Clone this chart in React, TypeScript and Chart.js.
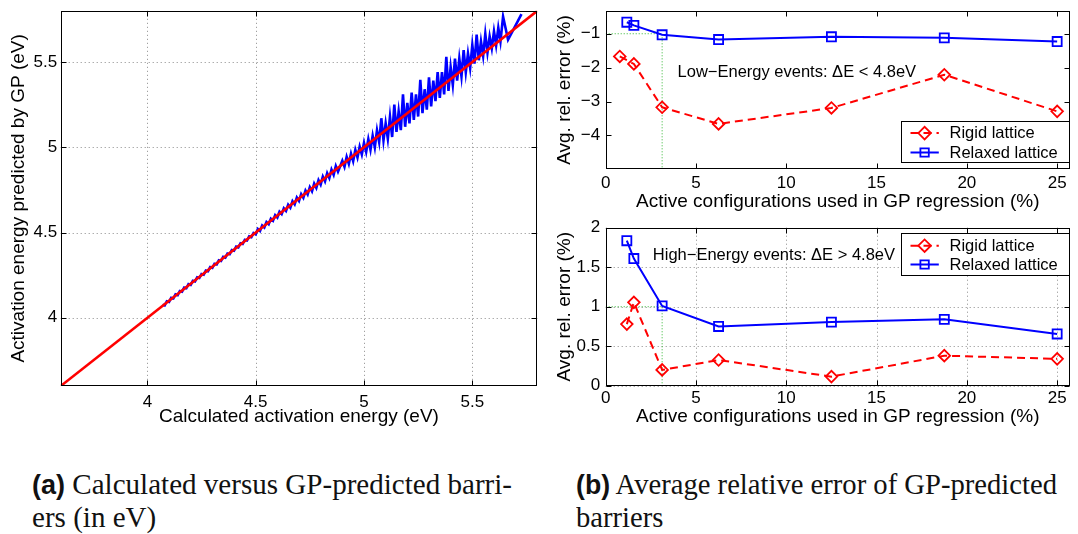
import React, { useEffect, useRef } from "react";
import { Chart, registerables } from "chart.js";

Chart.register(...registerables);

const SANS = "'Liberation Sans', Arial, Helvetica, sans-serif";
const SERIF = "'Liberation Serif', 'Times New Roman', serif";

// ---------------- Panel (a): calculated vs GP-predicted barriers (eV) ----------------
const calcEnergy = [
  4.07, 4.08, 4.09, 4.1, 4.11, 4.12, 4.13, 4.14, 4.15, 4.16, 4.17, 4.18, 4.19, 4.2, 4.21, 4.22,
  4.23, 4.24, 4.25, 4.26, 4.27, 4.28, 4.29, 4.3, 4.31, 4.32, 4.33, 4.34, 4.35, 4.36, 4.37, 4.38,
  4.39, 4.4, 4.41, 4.42, 4.43, 4.44, 4.45, 4.46, 4.47, 4.48, 4.49,
  4.5, 4.51, 4.52, 4.53, 4.54, 4.55, 4.56, 4.57, 4.58, 4.59, 4.6, 4.61, 4.62, 4.63, 4.64, 4.65,
  4.66, 4.67, 4.68, 4.69, 4.7, 4.71, 4.72, 4.73, 4.74, 4.75, 4.76, 4.77, 4.78, 4.79, 4.8, 4.81,
  4.82, 4.83, 4.84, 4.85, 4.86, 4.87, 4.88,
  4.9, 4.91, 4.92, 4.93, 4.94, 4.95, 4.96, 4.97, 4.98, 4.99, 5.0, 5.01, 5.02, 5.03, 5.04, 5.05,
  5.06, 5.07, 5.08, 5.09, 5.1, 5.11, 5.12, 5.13, 5.14, 5.15, 5.16, 5.17, 5.18, 5.19, 5.2, 5.21,
  5.22, 5.23, 5.24, 5.25, 5.26, 5.27, 5.28, 5.29, 5.3, 5.31, 5.32, 5.33, 5.34, 5.35, 5.36, 5.37,
  5.38, 5.39, 5.4, 5.41, 5.42, 5.43, 5.44, 5.45, 5.46, 5.47, 5.48, 5.49, 5.5, 5.51, 5.52, 5.53,
  5.54, 5.55, 5.56, 5.57, 5.58, 5.59, 5.6, 5.61, 5.62, 5.63, 5.642, 5.665, 5.727,
];
const gpEnergy = [
  4.077, 4.073, 4.097, 4.093, 4.117, 4.113, 4.137, 4.133, 4.157, 4.153, 4.177, 4.173, 4.197, 4.193, 4.217, 4.213,
  4.237, 4.233, 4.257, 4.253, 4.277, 4.273, 4.297, 4.293, 4.317, 4.313, 4.337, 4.333, 4.357, 4.353, 4.377, 4.373,
  4.397, 4.393, 4.417, 4.413, 4.437, 4.433, 4.457, 4.453, 4.477, 4.473, 4.497,
  4.489, 4.521, 4.509, 4.541, 4.529, 4.561, 4.549, 4.581, 4.569, 4.602, 4.588, 4.622, 4.608, 4.642, 4.627, 4.663,
  4.646, 4.684, 4.665, 4.705, 4.685, 4.725, 4.704, 4.746, 4.723, 4.766, 4.742, 4.787, 4.762, 4.807, 4.781, 4.828,
  4.8, 4.848, 4.819, 4.869, 4.838, 4.89, 4.857,
  4.921, 4.885, 4.943, 4.902, 4.962, 4.918, 4.985, 4.94, 5.004, 4.958, 5.026, 4.972, 5.048, 4.985, 5.068, 5.0,
  5.1, 5.03, 5.17, 5.04, 5.14, 5.05, 5.18, 5.06, 5.25, 5.09, 5.21, 5.1, 5.31, 5.12, 5.26, 5.14,
  5.32, 5.16, 5.31, 5.18, 5.395, 5.2, 5.34, 5.22, 5.41, 5.24, 5.39, 5.27, 5.44, 5.29, 5.44, 5.31,
  5.53, 5.33, 5.47, 5.365, 5.52, 5.39, 5.52, 5.415, 5.57, 5.44, 5.55, 5.465, 5.6, 5.49, 5.66, 5.51,
  5.62, 5.535, 5.665, 5.555, 5.65, 5.58, 5.68, 5.598, 5.7, 5.62, 5.766, 5.63, 5.78,
];
const parityX = [3.6, 5.8];
const parityY = [3.6, 5.8];
const energyTicks = [4, 4.5, 5, 5.5];

// ---------------- Panel (b): average relative error ----------------
const activeLowRigid = [0.78, 1.56, 3.125, 6.25, 12.5, 18.75, 25];
const errLowRigid = [-1.67, -1.89, -3.17, -3.66, -3.19, -2.21, -3.29];
const activeLowRelaxed = [1.17, 1.56, 3.125, 6.25, 12.5, 18.75, 25];
const errLowRelaxed = [-0.66, -0.755, -1.03, -1.17, -1.09, -1.12, -1.23];
const activeHigh = [1.17, 1.56, 3.125, 6.25, 12.5, 18.75, 25];
const errHighRigid = [0.78, 1.055, 0.2, 0.325, 0.115, 0.38, 0.34];
const errHighRelaxed = [1.835, 1.61, 1.01, 0.75, 0.805, 0.84, 0.655];
const guideX = [0, 3.125, 3.125];
const guideLowY = [-1, -1, -5];
const guideHighY = [1, 1, 0];
const activeTicks = [0, 5, 10, 15, 20, 25];
const lowErrTicks = [-4, -3, -2, -1];
const highErrTicks = [0, 0.5, 1, 1.5, 2];
const seriesLabels = ["Rigid lattice", "Relaxed lattice"];

const RED = "#ff0000";
const BLUE = "#0000ff";
const GREEN = "#2fb52f";
const RED_DASH = [8, 5];

type Pt = { x: number; y: number };
const zip = (xs: number[], ys: number[]): Pt[] => xs.map((x, i) => ({ x, y: ys[i] }));
const fmt = (v: number) => (v < 0 ? "\u2212" + String(Math.abs(v)) : String(v));

function drawMarker(ctx: CanvasRenderingContext2D, kind: string, x: number, y: number, color: string, r: number) {
  ctx.save();
  ctx.strokeStyle = color;
  ctx.lineWidth = 1.8;
  ctx.setLineDash([]);
  ctx.beginPath();
  if (kind === "diamond") {
    ctx.moveTo(x - r, y);
    ctx.lineTo(x, y - r);
    ctx.lineTo(x + r, y);
    ctx.lineTo(x, y + r);
    ctx.closePath();
  } else {
    ctx.rect(x - r, y - r, 2 * r, 2 * r);
  }
  ctx.stroke();
  ctx.restore();
}

const matlabAxes = {
  id: "matlabAxes",
  beforeDatasetsDraw(chart: any, _a: any, opts: any) {
    if (!opts || !opts.grid) return;
    const { ctx, chartArea: a, scales } = chart;
    ctx.save();
    ctx.strokeStyle = "#8a8a8a";
    ctx.lineWidth = 1;
    ctx.setLineDash([1, 3]);
    ctx.beginPath();
    scales.x.ticks.forEach((t: any) => {
      const p = Math.round(scales.x.getPixelForValue(t.value)) + 0.5;
      ctx.moveTo(p, a.top);
      ctx.lineTo(p, a.bottom);
    });
    scales.y.ticks.forEach((t: any) => {
      const p = Math.round(scales.y.getPixelForValue(t.value)) + 0.5;
      ctx.moveTo(a.left, p);
      ctx.lineTo(a.right, p);
    });
    ctx.stroke();
    ctx.restore();
  },
  afterDraw(chart: any, _a: any, opts: any) {
    const { ctx, chartArea: a, scales } = chart;
    ctx.save();
    ctx.strokeStyle = "#000";
    ctx.lineWidth = 1;
    ctx.setLineDash([]);
    const L = Math.round(a.left) + 0.5;
    const R = Math.round(a.right) - 0.5;
    const T = Math.round(a.top) + 0.5;
    const B = Math.round(a.bottom) - 0.5;
    ctx.strokeRect(L, T, R - L, B - T);
    const tl = 5;
    ctx.beginPath();
    scales.x.ticks.forEach((t: any) => {
      const p = Math.round(scales.x.getPixelForValue(t.value)) + 0.5;
      ctx.moveTo(p, B); ctx.lineTo(p, B - tl);
      ctx.moveTo(p, T); ctx.lineTo(p, T + tl);
    });
    scales.y.ticks.forEach((t: any) => {
      const p = Math.round(scales.y.getPixelForValue(t.value)) + 0.5;
      ctx.moveTo(L, p); ctx.lineTo(L + tl, p);
      ctx.moveTo(R, p); ctx.lineTo(R - tl, p);
    });
    ctx.stroke();

    if (opts && opts.note) {
      ctx.fillStyle = "#000";
      ctx.font = `16.5px ${SANS}`;
      ctx.textAlign = "left";
      ctx.textBaseline = "middle";
      ctx.fillText(opts.note.text, scales.x.getPixelForValue(opts.note.x), scales.y.getPixelForValue(opts.note.y));
    }

    if (opts && opts.legend) {
      const lg = opts.legend;
      const w = lg.width;
      const h = lg.height;
      const left = a.right - w;
      const top = lg.anchor === "bottom" ? a.bottom - lg.offset - h : a.top + lg.offset;
      ctx.fillStyle = "#fff";
      ctx.fillRect(left, top, w, h);
      ctx.strokeStyle = "#000";
      ctx.lineWidth = 1;
      ctx.strokeRect(Math.round(left) + 0.5, Math.round(top) + 0.5, Math.round(w) - 1, Math.round(h) - 1);
      const items = [
        { label: seriesLabels[0], color: RED, dash: RED_DASH, marker: "diamond", r: 6.3 },
        { label: seriesLabels[1], color: BLUE, dash: [], marker: "square", r: 4.2 },
      ];
      items.forEach((it, i) => {
        const y = top + lg.rowTop + i * lg.rowGap;
        ctx.save();
        ctx.strokeStyle = it.color;
        ctx.lineWidth = 2;
        ctx.setLineDash(it.dash);
        ctx.beginPath();
        ctx.moveTo(left + 9.7, y);
        ctx.lineTo(left + 38, y);
        ctx.stroke();
        ctx.restore();
        drawMarker(ctx, it.marker, left + 23.8, y, it.color, it.r);
        ctx.fillStyle = "#000";
        ctx.font = `16.5px ${SANS}`;
        ctx.textAlign = "left";
        ctx.textBaseline = "middle";
        ctx.fillText(it.label, left + 48.7, y + 0.5);
      });
    }
    ctx.restore();
  },
};

function makeScale(o: {
  axis: "x" | "y";
  min: number;
  max: number;
  ticks: number[];
  size: number;
  pad: number;
  title: string;
  titlePad: { top: number; bottom: number };
}) {
  return {
    type: "linear",
    bounds: "data",
    min: o.min,
    max: o.max,
    grid: { display: false, drawTicks: false },
    border: { display: false },
    afterBuildTicks: (s: any) => {
      s.ticks = o.ticks.map((v) => ({ value: v }));
    },
    afterFit: (s: any) => {
      if (o.axis === "x") s.height = o.size;
      else s.width = o.size;
      s.paddingTop = 0;
      s.paddingBottom = 0;
      s.paddingLeft = 0;
      s.paddingRight = 0;
    },
    ticks: {
      autoSkip: false,
      maxRotation: 0,
      minRotation: 0,
      padding: o.pad,
      color: "#000",
      font: { family: SANS, size: 17 },
      callback: (v: any) => fmt(Number(v)),
    },
    title: {
      display: true,
      text: o.title,
      color: "#000",
      font: { family: SANS, size: 19 },
      padding: o.titlePad,
    },
  };
}

const baseOptions = {
  responsive: false,
  maintainAspectRatio: false,
  animation: false,
  devicePixelRatio: 1,
  events: [] as any[],
};

function configA(): any {
  return {
    type: "scatter",
    data: {
      datasets: [
        { data: zip(parityX, parityY), showLine: true, borderColor: RED, borderWidth: 2.6, pointRadius: 0 },
        { data: zip(calcEnergy, gpEnergy), showLine: true, borderColor: BLUE, borderWidth: 2.6, pointRadius: 0 },
      ],
    },
    options: {
      ...baseOptions,
      layout: { padding: { left: 0, top: 10.8, right: 7.7, bottom: 0 } },
      plugins: { legend: { display: false }, tooltip: { enabled: false }, matlabAxes: { grid: true } },
      scales: {
        x: makeScale({ axis: "x", min: 3.6, max: 5.8, ticks: energyTicks, size: 54, pad: 6, title: "Calculated activation energy (eV)", titlePad: { top: 0, bottom: 11.6 } }),
        y: makeScale({ axis: "y", min: 3.6, max: 5.8, ticks: energyTicks, size: 60.7, pad: 3.5, title: "Activation energy predicted by GP (eV)", titlePad: { top: 7, bottom: 0 } }),
      },
    },
    plugins: [matlabAxes],
  };
}

function seriesDatasets(xr: number[], yr: number[], xb: number[], yb: number[], gy: number[]) {
  return [
    {
      data: zip(xr, yr), showLine: true, borderColor: RED, borderWidth: 2, borderDash: RED_DASH,
      pointStyle: "rectRot", pointRadius: 5.8, pointBorderWidth: 1.8, pointBorderColor: RED, pointBackgroundColor: "rgba(0,0,0,0)",
    },
    {
      data: zip(xb, yb), showLine: true, borderColor: BLUE, borderWidth: 2,
      pointStyle: "rect", pointRadius: 6.4, pointBorderWidth: 1.8, pointBorderColor: BLUE, pointBackgroundColor: "rgba(0,0,0,0)",
    },
    { data: zip(guideX, gy), showLine: true, borderColor: GREEN, borderWidth: 1, borderDash: [1, 2], pointRadius: 0 },
  ];
}

function configTop(): any {
  return {
    type: "scatter",
    data: { datasets: seriesDatasets(activeLowRigid, errLowRigid, activeLowRelaxed, errLowRelaxed, guideLowY) },
    options: {
      ...baseOptions,
      layout: { padding: { left: 0, top: 10.7, right: 2, bottom: 0 } },
      plugins: {
        legend: { display: false },
        tooltip: { enabled: false },
        matlabAxes: {
          grid: false,
          note: { text: "Low\u2212Energy events: \u0394E < 4.8eV", x: 3.98, y: -2.13 },
          legend: { anchor: "bottom", offset: 6.3, width: 169, height: 41.5, rowTop: 11.6, rowGap: 19.4 },
        },
      },
      scales: {
        x: makeScale({ axis: "x", min: 0, max: 25.7, ticks: activeTicks, size: 45.7, pad: 3.5, title: "Active configurations used in GP regression (%)", titlePad: { top: 0, bottom: 1.6 } }),
        y: makeScale({ axis: "y", min: -5, max: -0.32, ticks: lowErrTicks, size: 60.7, pad: 5.5, title: "Avg. rel. error (%)", titlePad: { top: 8.6, bottom: 0 } }),
      },
    },
    plugins: [matlabAxes],
  };
}

function configBottom(): any {
  return {
    type: "scatter",
    data: { datasets: seriesDatasets(activeHigh, errHighRigid, activeHigh, errHighRelaxed, guideHighY) },
    options: {
      ...baseOptions,
      layout: { padding: { left: 0, top: 12.7, right: 2, bottom: 0 } },
      plugins: {
        legend: { display: false },
        tooltip: { enabled: false },
        matlabAxes: {
          grid: true,
          note: { text: "High\u2212Energy events: \u0394E > 4.8eV", x: 2.61, y: 1.65 },
          legend: { anchor: "top", offset: 5.6, width: 169, height: 42.5, rowTop: 12.4, rowGap: 18.8 },
        },
      },
      scales: {
        x: makeScale({ axis: "x", min: 0, max: 25.7, ticks: activeTicks, size: 54.3, pad: 2.5, title: "Active configurations used in GP regression (%)", titlePad: { top: 0, bottom: 11.6 } }),
        y: makeScale({ axis: "y", min: 0, max: 2, ticks: highErrTicks, size: 60.7, pad: 5.5, title: "Avg. rel. error (%)", titlePad: { top: 8.6, bottom: 0 } }),
      },
    },
    plugins: [matlabAxes],
  };
}

function Caption(props: { left: number; top: number; width: number; label: string; line1: string; line2: string }) {
  const boxRef = useRef<HTMLDivElement>(null);
  const lineRef = useRef<HTMLSpanElement>(null);
  useEffect(() => {
    const fit = () => {
      const box = boxRef.current;
      const line = lineRef.current;
      if (!box || !line) return;
      box.style.transform = "none";
      const natural = line.getBoundingClientRect().width;
      if (natural > 0) box.style.transform = `scaleX(${props.width / natural})`;
    };
    fit();
    const fonts = (document as any).fonts;
    if (fonts && fonts.ready) fonts.ready.then(fit);
  }, []);
  return (
    <div
      ref={boxRef}
      style={{
        position: "absolute",
        left: props.left,
        top: props.top,
        transformOrigin: "0 0",
        fontFamily: SERIF,
        fontSize: 29,
        lineHeight: "31.5px",
        color: "#111",
        whiteSpace: "nowrap",
      }}
    >
      <div>
        <span ref={lineRef}>
          <span style={{ fontFamily: SANS, fontWeight: "bold", fontSize: 27 }}>{props.label}</span> {props.line1}
        </span>
      </div>
      <div>{props.line2}</div>
    </div>
  );
}

export default function App() {
  const aRef = useRef<HTMLCanvasElement>(null);
  const topRef = useRef<HTMLCanvasElement>(null);
  const botRef = useRef<HTMLCanvasElement>(null);

  useEffect(() => {
    const charts: Chart[] = [];
    if (aRef.current) charts.push(new Chart(aRef.current, configA()));
    if (topRef.current) charts.push(new Chart(topRef.current, configTop()));
    if (botRef.current) charts.push(new Chart(botRef.current, configBottom()));
    return () => charts.forEach((c) => c.destroy());
  }, []);

  return (
    <div style={{ position: "absolute", left: 0, top: 0, width: 1078, height: 534, background: "#fff", overflow: "hidden" }}>
      <canvas ref={aRef} width={545} height={440} style={{ position: "absolute", left: 0, top: 0, width: 545, height: 440 }} />
      <canvas ref={topRef} width={533} height={215} style={{ position: "absolute", left: 545, top: 0, width: 533, height: 215 }} />
      <canvas ref={botRef} width={533} height={225} style={{ position: "absolute", left: 545, top: 215, width: 533, height: 225 }} />
      <Caption left={32} top={469} width={480} label="(a)" line1="Calculated versus GP-predicted barri-" line2="ers (in eV)" />
      <Caption left={576} top={469} width={481} label="(b)" line1="Average relative error of GP-predicted" line2="barriers" />
    </div>
  );
}
